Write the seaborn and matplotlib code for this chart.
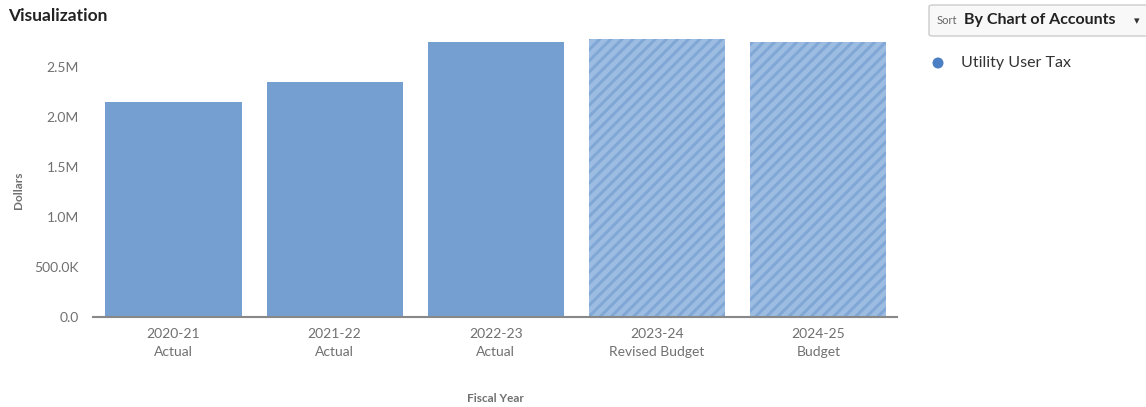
import matplotlib
matplotlib.use("Agg")
import matplotlib.pyplot as plt
import seaborn as sns
import pandas as pd
from matplotlib.patches import FancyBboxPatch

years = ["2020-21", "2021-22", "2022-23", "2023-24", "2024-25"]
kinds = ["Actual", "Actual", "Actual", "Revised Budget", "Budget"]
values = [2150000, 2350000, 2750000, 2780000, 2750000]
series_name = "Utility User Tax"
yticks = [0, 500000, 1000000, 1500000, 2000000, 2500000]
ytick_labels = ["0.0", "500.0K", "1.0M", "1.5M", "2.0M", "2.5M"]

sns.set_theme(style="white")
plt.rcParams['font.family'] = ['Lato', 'DejaVu Sans']
plt.rcParams['hatch.linewidth'] = 3.5

df = pd.DataFrame({"label": [f"{y}\n{k}" for y, k in zip(years, kinds)], "value": values})

fig = plt.figure(figsize=(11.46, 4.07), dpi=100)
ax = fig.add_axes([0.081, 0.221, 0.702, 0.683])
bar_color = "#759fd0"
sns.barplot(data=df, x="label", y="value", color=bar_color, saturation=1, width=0.845, ax=ax)

for i, p in enumerate(ax.patches):
    p.set_linewidth(0)
    if kinds[i] != "Actual":
        p.set_facecolor("#80a7d5")
        p.set_edgecolor("#9cbce1")
        p.set_hatch("///")

ax.set_ylim(0, 2780000)
ax.set_xlim(-0.5, 4.49)
ax.set_yticks(yticks)
ax.set_yticklabels(ytick_labels)
for s in ["top", "right", "left"]:
    ax.spines[s].set_visible(False)
ax.spines["bottom"].set_color("#888888")
ax.spines["bottom"].set_linewidth(1.5)
ax.tick_params(axis="y", length=0, pad=10, labelsize=10, labelcolor="#707070")
ax.tick_params(axis="x", length=0, pad=8, labelsize=10, labelcolor="#707070")
for t in ax.get_xticklabels():
    t.set_linespacing(1.6)
ax.set_xlabel("Fiscal Year", fontsize=8.5, fontweight="bold", color="#707070")
ax.xaxis.set_label_coords(0.5, -0.275)
ax.set_ylabel("Dollars", fontsize=8.5, fontweight="bold", color="#707070")
ax.yaxis.set_label_coords(-0.086, 0.457)

fig.text(8/1146, 1 - 16/407, "Visualization", fontsize=12.5, fontweight="bold", color="#222222", va="center", ha="left")

# Sort box
box = FancyBboxPatch((929/1146, 1 - 36/407), 240/1146, 31/407, boxstyle="round,pad=0,rounding_size=0.004",
                     transform=fig.transFigure, facecolor="#f8f8f8", edgecolor="#cccccc", linewidth=1)
fig.patches.append(box)
fig.text(937/1146, 1 - 20/407, "Sort", fontsize=8, color="#666666", va="center", ha="left")
fig.text(964/1146, 1 - 20/407, "By Chart of Accounts", fontsize=11.5, fontweight="bold", color="#222222", va="center", ha="left")
fig.text(1137/1146, 1 - 21/407, "▾", fontsize=8, color="#333333", va="center", ha="center", family=["DejaVu Sans"])

# Legend
fig.patches.append(matplotlib.patches.Ellipse((938/1146, 1 - 63/407), 11/1146, 11/407, transform=fig.transFigure,
                                              facecolor="#4a7fc4", edgecolor="none"))
fig.text(961/1146, 1 - 63/407, series_name, fontsize=11.5, color="#333333", va="center", ha="left")

fig.savefig("out.png", dpi=100)
